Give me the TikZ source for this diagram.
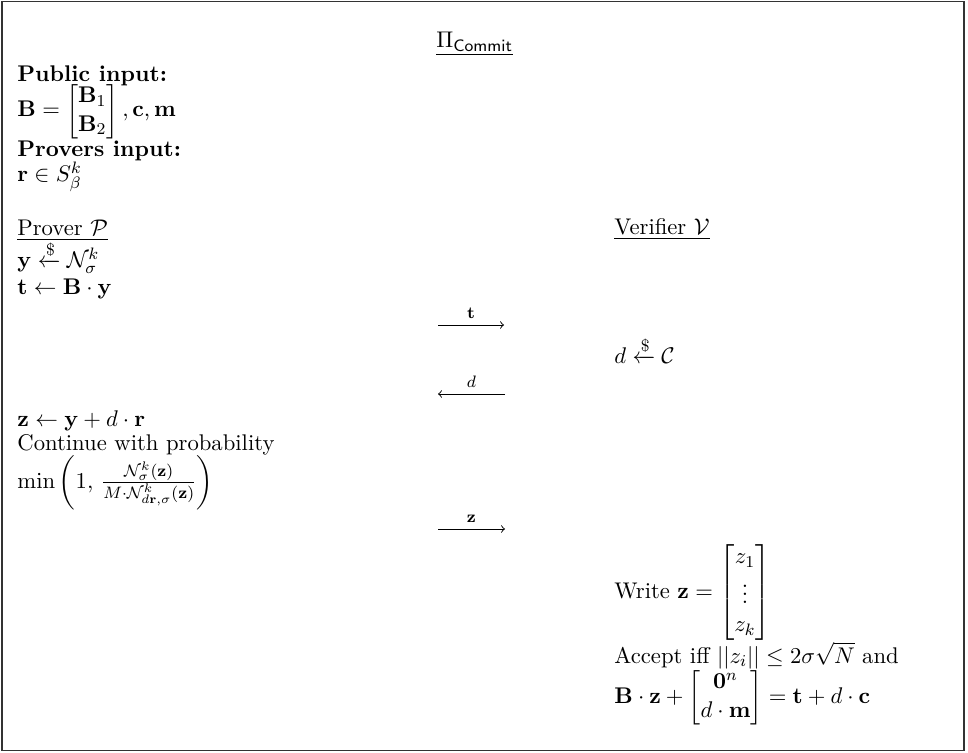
\documentclass[11pt,tikz,border=0pt]{standalone}
\usepackage{amsmath,amssymb}
\begin{document}
\begin{tikzpicture}[x=0.483pt,y=-0.483pt,
  txt/.style={anchor=base west,inner sep=0pt},
  msg/.style={->,line width=0.45pt},
  lbl/.style={font=\scriptsize,inner sep=2.7pt,above}]
\useasboundingbox (0,0) rectangle (968,753);
\draw[line width=0.65pt,black!80] (2,1.5) rectangle (964,750.5);
\node[txt] (title) at (436,48) {\underline{$\Pi_{\mathsf{Commit}}$}};
\node[txt] (pub) at (17,82) {\textbf{Public input:}};
\node[txt] (bmat) at (17,117) {$\mathbf{B}=\begin{bmatrix}\mathbf{B}_1\\ \mathbf{B}_2\end{bmatrix},\mathbf{c},\mathbf{m}$};
\node[txt] (priv) at (17,157) {\textbf{Provers input:}};
\node[txt] (r) at (17,182) {$\mathbf{r}\in S^k_\beta$};
\node[txt] (prover) at (17,236) {\underline{Prover $\mathcal{P}$}};
\node[txt] (y) at (17,268) {$\mathbf{y}\xleftarrow{\$}\mathcal{N}^k_\sigma$};
\node[txt] (t) at (17,295) {$\mathbf{t}\leftarrow\mathbf{B}\cdot\mathbf{y}$};
\node[txt] (z) at (17,426) {$\mathbf{z}\leftarrow\mathbf{y}+d\cdot\mathbf{r}$};
\node[txt] (cont) at (17,450) {Continue with probability};
\node[txt] (min) at (17,488) {$\min\left(1,\,\frac{\mathcal{N}^k_\sigma(\mathbf{z})}{M\cdot\mathcal{N}^k_{d\mathbf{r},\sigma}(\mathbf{z})}\right)$};
\node[txt] (verifier) at (614,235) {\underline{Verifier $\mathcal{V}$}};
\node[txt] (d) at (614,364) {$d\xleftarrow{\$}\mathcal{C}$};
\node[txt] (write) at (614,598) {Write $\mathbf{z}=\begin{bmatrix}z_1\\ \vdots\\ z_k\end{bmatrix}$};
\node[txt] (accept) at (614,663) {Accept iff $||z_i||\leq 2\sigma\sqrt{N}$ and};
\node[txt] (check) at (614,703) {$\mathbf{B}\cdot\mathbf{z}+\begin{bmatrix}\mathbf{0}^n\\ d\cdot\mathbf{m}\end{bmatrix}=\mathbf{t}+d\cdot\mathbf{c}$};
\coordinate (t1) at (438,325); \coordinate (t2) at (504,325);
\draw[msg] (t1) -- node[lbl]{$\mathbf{t}$} (t2);
\coordinate (d1) at (505,394); \coordinate (d2) at (438,394);
\draw[msg] (d1) -- node[lbl]{$d$} (d2);
\coordinate (z1) at (438,529); \coordinate (z2) at (505,529);
\draw[msg] (z1) -- node[lbl]{$\mathbf{z}$} (z2);
\end{tikzpicture}
\end{document}
